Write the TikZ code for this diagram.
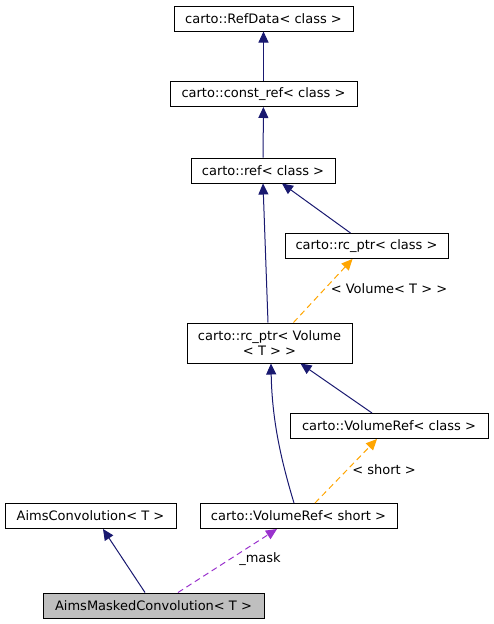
\documentclass[tikz,border=0pt]{standalone}
\usepackage{xcolor}
\usepackage{fontspec}
\setmainfont{DejaVu Sans}
\usepackage{tikz}
\usetikzlibrary{positioning, calc, arrows.meta}
\definecolor{inheritBlue}{HTML}{191970}
\definecolor{templateOrange}{HTML}{FFA500}
\definecolor{usagePurple}{HTML}{9A32CD}
\tikzstyle{every class}=[draw, fill=white, line width=1pt, inner sep=0pt, minimum height=25pt, align=center, font=\fontsize{13}{15}\selectfont]
\tikzstyle{arrowInherit}=[-{Triangle[length=11pt, width=10pt]}, inheritBlue, line width=1pt]
\tikzstyle{arrowTemplate}=[-{Triangle[length=11pt, width=10pt]}, templateOrange, line width=1pt, dash pattern=on 6pt off 4pt]
\tikzstyle{arrowUsage}=[-{Triangle[length=11pt, width=10pt]}, usagePurple, line width=1pt, dash pattern=on 6pt off 4pt]
\tikzstyle{edge label}=[font=\fontsize{13}{15}\selectfont, inner sep=0pt]

\begin{document}
\begin{tikzpicture}[x=1pt, y=-1pt]
    \useasboundingbox (0,0) rectangle (493,624);

    \node [every class, minimum width=179pt] (refdata) at (263.5,18.5) {carto::RefData< class >};
    \node [every class, minimum width=187pt] (constref) at (263.5,94) {carto::const\_ref< class >};
    \node [every class, minimum width=144pt] (ref) at (263,170.5) {carto::ref< class >};
    \node [every class, minimum width=163pt] (rcclass) at (366.5,246) {carto::rc\_ptr< class >};
    \node [every class, minimum width=165pt, minimum height=40pt] (rcvol) at (269.5,343) {carto::rc\_ptr< Volume\\< T > >};
    \node [every class, minimum width=198pt] (vrclass) at (389,426) {carto::VolumeRef< class >};
    \node [every class, minimum width=171pt] (aimsconv) at (90.5,516) {AimsConvolution< T >};
    \node [every class, minimum width=197pt] (vrshort) at (298.5,516) {carto::VolumeRef< short >};
    \node [every class, minimum width=221pt, fill={rgb,255:red,191;green,191;blue,191}] (masked) at (153.5,605.5) {AimsMaskedConvolution< T >};

    \draw [arrowInherit] (constref) -- (refdata);
    \draw [arrowInherit] (ref) -- (constref);
    \draw [arrowInherit] ([xshift=-16pt]rcclass.north) -- ([xshift=19pt]ref.south);
    \draw [arrowInherit] ([xshift=-1.5pt]rcvol.north) -- (ref.south);
    \draw [arrowTemplate] ([xshift=24pt]rcvol.north) -- ([xshift=-14pt]rcclass.south);
    \draw [arrowInherit] ([xshift=-17pt]vrclass.north) -- ([xshift=31pt]rcvol.south);
    \draw [arrowInherit] ([xshift=-4.5pt]vrshort.north) .. controls (281,460) and (272,420) .. ([xshift=1.5pt]rcvol.south);
    \draw [arrowTemplate] ([xshift=16.5pt]vrshort.north) -- ([xshift=-12pt]vrclass.south);
    \draw [arrowInherit] ([xshift=-8.5pt]masked.north) -- ([xshift=12.5pt]aimsconv.south);
    \draw [arrowUsage] ([xshift=24.5pt]masked.north) -- ([xshift=-21.5pt]vrshort.south);

    \node [edge label] (labvol) at (389,289) {< Volume< T > >};
    \node [edge label] (labshort) at (384,470) {< short >};
    \node [edge label] (labmask) at (260,559) {\_mask};

\end{tikzpicture}
\end{document}
